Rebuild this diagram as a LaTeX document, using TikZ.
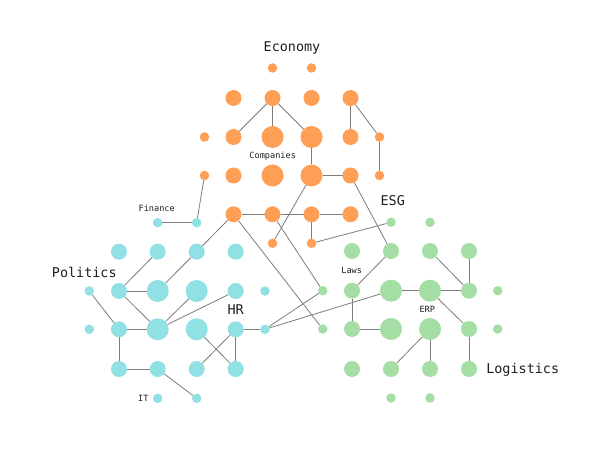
\documentclass[tikz,border=0pt]{standalone}
\usepackage{fontspec}
\newfontfamily\labfont{DejaVu Sans Mono}
\usetikzlibrary{backgrounds}
\definecolor{ora}{RGB}{255,158,85}
\definecolor{cya}{RGB}{145,224,228}
\definecolor{grn}{RGB}{164,222,165}
\definecolor{edgec}{RGB}{125,125,125}
\definecolor{txt}{RGB}{30,30,30}
\begin{document}
\begin{tikzpicture}[x=1bp,y=-1bp,
  dot/.style={circle,inner sep=0pt,outer sep=0pt,draw=none},
  bg/.style={dot,minimum size=22bp},
  md/.style={dot,minimum size=16bp},
  sm/.style={dot,minimum size=9.5bp},
  O/.style={fill=ora},
  C/.style={fill=cya},
  G/.style={fill=grn},
  title/.style={font=\labfont\fontsize{13.5}{14}\selectfont,text=txt,inner sep=0pt},
  lab/.style={font=\labfont\fontsize{8.6}{10}\selectfont,text=txt,inner sep=0pt},
  link/.style={draw=edgec,line width=0.8bp}]
\useasboundingbox (0,0) rectangle (599,449);
% ---------- Economy (orange) ----------
\node[sm,O] (o01) at (272.5,68) {};
\node[sm,O] (o02) at (311.5,68) {};
\node[md,O] (o11) at (233.5,98) {};
\node[md,O] (o12) at (272.5,98) {};
\node[md,O] (o13) at (311.5,98) {};
\node[md,O] (o14) at (350.5,98) {};
\node[sm,O] (o20) at (204.5,137) {};
\node[md,O] (o21) at (233.5,137) {};
\node[bg,O] (o22) at (272.5,137) {};
\node[bg,O] (o23) at (311.5,137) {};
\node[md,O] (o24) at (350.5,137) {};
\node[sm,O] (o25) at (379.5,137) {};
\node[sm,O] (o30) at (204.5,175.5) {};
\node[md,O] (o31) at (233.5,175.5) {};
\node[bg,O] (o32) at (272.5,175.5) {};
\node[bg,O] (o33) at (311.5,175.5) {};
\node[md,O] (o34) at (350.5,175.5) {};
\node[sm,O] (o35) at (379.5,175.5) {};
\node[md,O] (o41) at (233.5,214.3) {};
\node[md,O] (o42) at (272.5,214.3) {};
\node[md,O] (o43) at (311.5,214.3) {};
\node[md,O] (o44) at (350.5,214.3) {};
\node[sm,O] (o52) at (272.5,243.3) {};
\node[sm,O] (o53) at (311.5,243.3) {};
% ---------- Politics / HR (cyan) ----------
\node[sm,C] (c01) at (157.7,222.7) {};
\node[sm,C] (c02) at (196.7,222.7) {};
\node[md,C] (c11) at (119,251.7) {};
\node[md,C] (c12) at (157.7,251.7) {};
\node[md,C] (c13) at (196.7,251.7) {};
\node[md,C] (c14) at (235.7,251.7) {};
\node[sm,C] (c20) at (89.3,291) {};
\node[md,C] (c21) at (119,291) {};
\node[bg,C] (c22) at (157.7,291) {};
\node[bg,C] (c23) at (196.7,291) {};
\node[md,C] (c24) at (235.7,291) {};
\node[sm,C] (c25) at (265,291) {};
\node[sm,C] (c30) at (89.3,329.3) {};
\node[md,C] (c31) at (119,329.3) {};
\node[bg,C] (c32) at (157.7,329.3) {};
\node[bg,C] (c33) at (196.7,329.3) {};
\node[md,C] (c34) at (235.7,329.3) {};
\node[sm,C] (c35) at (265,329.3) {};
\node[md,C] (c41) at (119,369) {};
\node[md,C] (c42) at (157.7,369) {};
\node[md,C] (c43) at (196.7,369) {};
\node[md,C] (c44) at (235.7,369) {};
\node[sm,C] (c52) at (157.7,398.3) {};
\node[sm,C] (c53) at (196.7,398.3) {};
% ---------- ESG / Logistics (green) ----------
\node[sm,G] (g01) at (391,222.3) {};
\node[sm,G] (g02) at (430,222.3) {};
\node[md,G] (g11) at (352,251) {};
\node[md,G] (g12) at (391,251) {};
\node[md,G] (g13) at (430,251) {};
\node[md,G] (g14) at (469,251) {};
\node[sm,G] (g20) at (322.7,290.7) {};
\node[md,G] (g21) at (352,290.7) {};
\node[bg,G] (g22) at (391,290.7) {};
\node[bg,G] (g23) at (430,290.7) {};
\node[md,G] (g24) at (469,290.7) {};
\node[sm,G] (g25) at (497.7,290.7) {};
\node[sm,G] (g30) at (322.7,329) {};
\node[md,G] (g31) at (352,329) {};
\node[bg,G] (g32) at (391,329) {};
\node[bg,G] (g33) at (430,329) {};
\node[md,G] (g34) at (469,329) {};
\node[sm,G] (g35) at (497.7,329) {};
\node[md,G] (g41) at (352,369) {};
\node[md,G] (g42) at (391,369) {};
\node[md,G] (g43) at (430,369) {};
\node[md,G] (g44) at (469,369) {};
\node[sm,G] (g52) at (391,398) {};
\node[sm,G] (g53) at (430,398) {};
% ---------- labels ----------
\node[title] (tEco) at (292,48) {Economy};
\node[title] (tESG) at (392.7,200.7) {ESG};
\node[title] (tPol) at (84.3,272.3) {Politics};
\node[title] (tHR) at (235.7,310) {HR};
\node[title] (tLog) at (522.7,370) {Logistics};
\node[lab] (lCom) at (272.7,156) {Companies};
\node[lab] (lFin) at (156.7,208.3) {Finance};
\node[lab] (lLaw) at (351.7,270) {Laws};
\node[lab] (lERP) at (427.3,309) {ERP};
\node[lab] (lIT) at (143.3,398.3) {IT};
% ---------- connectors ----------
\begin{scope}[on background layer]
\fill[white] (0,0) rectangle (599,449);
\draw[link] (o12) -- (o21);
\draw[link] (o12) -- (o22);
\draw[link] (o12) -- (o23);
\draw[link] (o14) -- (o24);
\draw[link] (o14) -- (o25);
\draw[link] (o25) -- (o35);
\draw[link] (o23) -- (o33);
\draw[link] (o33) -- (o34);
\draw[link] (o33) -- (o52);
\draw[link] (o34) -- (g12);
\draw[link] (o30) -- (c02);
\draw[link] (o41) -- (o42);
\draw[link] (o42) -- (o43);
\draw[link] (o43) -- (o44);
\draw[link] (o43) -- (o53);
\draw[link] (o53) -- (g01);
\draw[link] (o41) -- (c13);
\draw[link] (o41) -- (g30);
\draw[link] (o42) -- (g20);
\draw[link] (c01) -- (c02);
\draw[link] (c13) -- (c22);
\draw[link] (c12) -- (c21);
\draw[link] (c21) -- (c22);
\draw[link] (c21) -- (c32);
\draw[link] (c20) -- (c31);
\draw[link] (c31) -- (c32);
\draw[link] (c32) -- (c23);
\draw[link] (c32) -- (c24);
\draw[link] (c31) -- (c41);
\draw[link] (c41) -- (c42);
\draw[link] (c42) -- (c53);
\draw[link] (c33) -- (c44);
\draw[link] (c34) -- (c44);
\draw[link] (c34) -- (c43);
\draw[link] (c34) -- (c35);
\draw[link] (c35) -- (g20);
\draw[link] (c35) -- (g22);
\draw[link] (g12) -- (g21);
\draw[link] (g21) -- (g31);
\draw[link] (g31) -- (g32);
\draw[link] (g22) -- (g23);
\draw[link] (g23) -- (g24);
\draw[link] (g13) -- (g24);
\draw[link] (g14) -- (g24);
\draw[link] (g23) -- (g34);
\draw[link] (g34) -- (g44);
\draw[link] (g33) -- (g43);
\draw[link] (g33) -- (g42);
\end{scope}
\end{tikzpicture}
\end{document}
